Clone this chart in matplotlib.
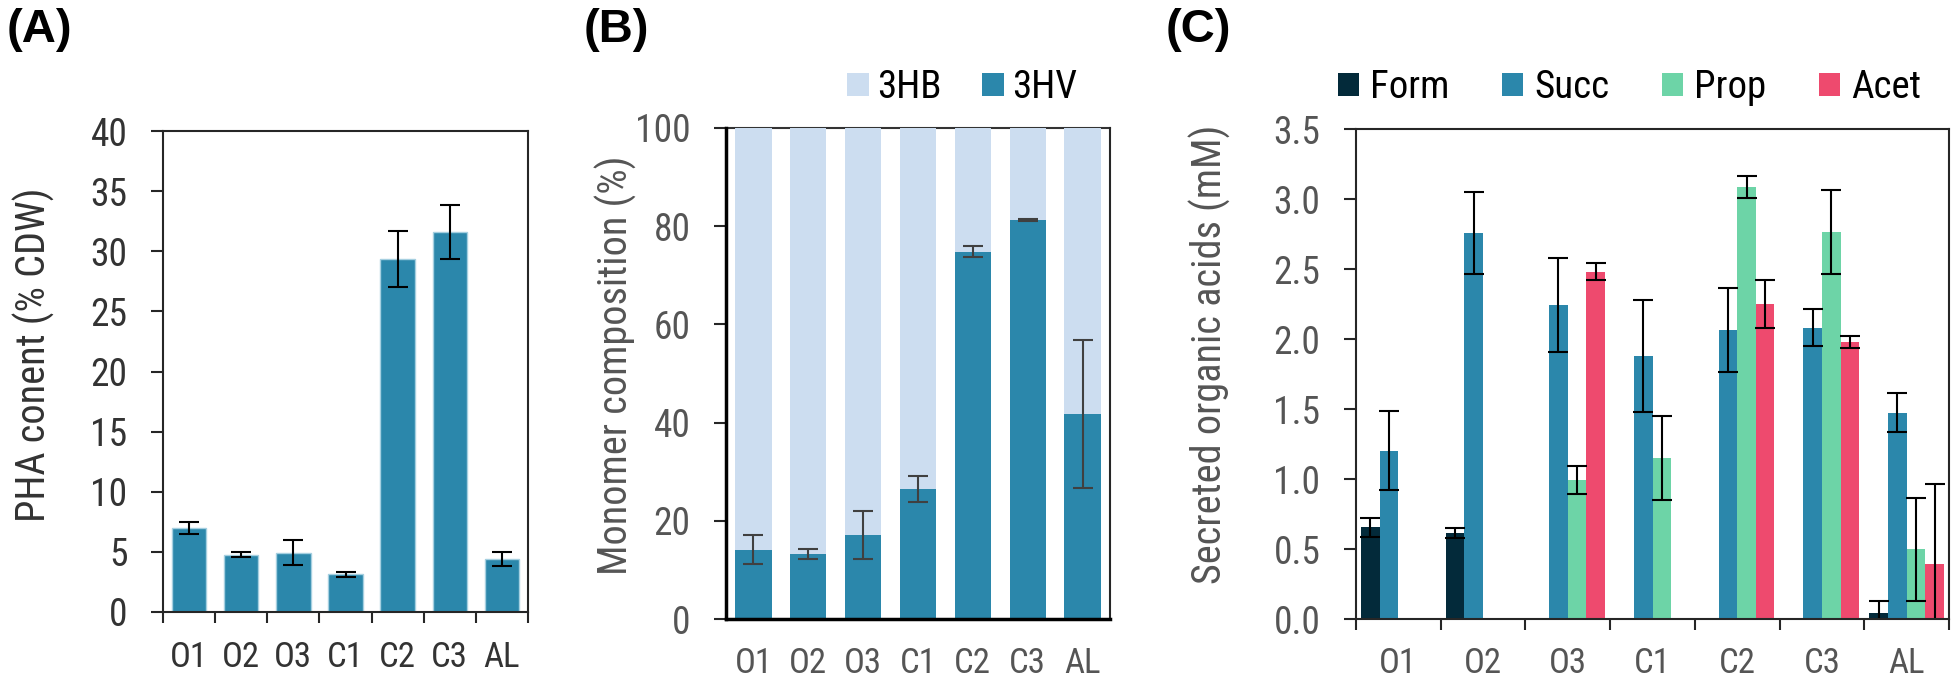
import numpy as np
import matplotlib.pyplot as plt
from matplotlib.ticker import FormatStrFormatter

plt.rcParams['font.family'] = ['Roboto Condensed', 'Liberation Sans', 'DejaVu Sans']

# data
strains = ["O1", "O2", "O3", "C1", "C2", "C3", "AL"]

pha_content = [7.0, 4.77, 4.91, 3.12, 29.35, 31.6, 4.41]
pha_err = [0.48, 0.2, 1.04, 0.2, 2.3, 2.25, 0.6]

hv_frac = [14.1, 13.2, 17.1, 26.5, 74.8, 81.3, 41.8]
hv_err = [3.0, 1.05, 4.85, 2.7, 1.15, 0.2, 15.1]
hb_frac = [100 - v for v in hv_frac]

acids = ["Form", "Succ", "Prop", "Acet"]
form = [0.654, 0.614, 0, 0, 0, 0, 0.04]
form_err = [0.07, 0.035, 0, 0, 0, 0, 0.088]
succ = [1.203, 2.757, 2.242, 1.881, 2.066, 2.081, 1.474]
succ_err = [0.285, 0.29, 0.335, 0.40, 0.30, 0.13, 0.14]
prop = [0, 0, 0.993, 1.153, 3.084, 2.763, 0.498]
prop_err = [0, 0, 0.10, 0.30, 0.08, 0.30, 0.367]
acet = [0, 0, 2.482, 0, 2.248, 1.98, 0.39]
acet_err = [0, 0, 0.06, 0, 0.17, 0.045, 0.572]

blue = "#2B87AB"
light_blue = "#CCDDF0"
acid_colors = ["#032A3A", blue, "#6DD4A7", "#EE4A6E"]

XFS = 25    # category labels
YFS = 27    # value tick labels
LFS = 29    # axis titles
x = np.arange(len(strains))

fig = plt.figure(figsize=(19.53, 6.78), dpi=100)


def style_axis(ax, label_color, xpad, boundary_ticks=True):
    ax.set_xlim(-0.5, 6.5)
    ax.set_xticks(x, strains)
    ax.tick_params(axis='x', which='major', length=0, pad=xpad,
                   labelsize=XFS, labelcolor=label_color)
    if boundary_ticks:
        ax.set_xticks(np.arange(-0.5, 7, 1), minor=True)
        ax.tick_params(axis='x', which='minor', length=8, width=1.5,
                       direction='out', color='#262626')
    ax.tick_params(axis='y', length=8.6, width=1.5, pad=17, labelsize=YFS,
                   labelcolor=label_color, color='#262626')
    for s in ax.spines.values():
        s.set_linewidth(1.5)
        s.set_color('#262626')


# (A) PHA content
axA = fig.add_axes([163 / 1953, 66 / 678, 365 / 1953, 481 / 678])
axA.bar(x, pha_content, width=0.66, color=blue, edgecolor='#a5cfe0', linewidth=1)
axA.errorbar(x, pha_content, yerr=pha_err, fmt='none', ecolor='black',
             elinewidth=1.5, capsize=7.5, capthick=1.5)
axA.set_ylim(0, 40)
axA.set_yticks(range(0, 41, 5))
style_axis(axA, '#333333', 21)
axA.set_ylabel("PHA conent (% CDW)", fontsize=LFS, color='#333333', va='center')
axA.yaxis.set_label_coords(-0.353, 0.534)

# (B) monomer composition
axB = fig.add_axes([726 / 1953, 59 / 678, 384 / 1953, 491 / 678])
axB.bar(x, hb_frac, bottom=hv_frac, width=0.66, color=light_blue, label="3HB", zorder=2.6)
axB.bar(x, hv_frac, width=0.66, color=blue, label="3HV", zorder=2.6)
axB.errorbar(x, hv_frac, yerr=hv_err, fmt='none', ecolor='#404040',
             elinewidth=1.5, capsize=7.5, capthick=1.5, zorder=3)
axB.set_ylim(0, 100)
axB.set_yticks(range(0, 101, 20))
style_axis(axB, '#555555', 20, boundary_ticks=False)
axB.spines['left'].set_linewidth(2.5)
axB.spines['bottom'].set_linewidth(2.5)
axB.spines['left'].set_color('black')
axB.spines['bottom'].set_color('black')
axB.spines['left'].set_zorder(3)
axB.spines['bottom'].set_zorder(3)
axB.spines['right'].set_zorder(3)
axB.spines['top'].set_color('#333333')
axB.set_ylabel("Monomer composition (%)", fontsize=LFS, color='#555555', va='center')
axB.yaxis.set_label_coords(-0.286, 0.517)
axB.legend(loc='center', bbox_to_anchor=(962 / 1953, 1 - 88 / 678),
           bbox_transform=fig.transFigure, ncol=2, frameon=False, fontsize=28,
           handlelength=0.57, handleheight=0.51, handletextpad=0.2,
           columnspacing=1.03, borderpad=0, borderaxespad=0)

# (C) secreted organic acids
axC = fig.add_axes([1356 / 1953, 59 / 678, 593 / 1953, 490 / 678])
width = 0.22
offsets = [-1.5, -0.5, 0.5, 1.5]
acid_vals = [form, succ, prop, acet]
acid_errs = [form_err, succ_err, prop_err, acet_err]
for name, vals, errs, off, col in zip(acids, acid_vals, acid_errs, offsets, acid_colors):
    pos = x + off * width
    axC.bar(pos, vals, width=width, color=col, label=name)
    vals = np.array(vals)
    errs = np.array(errs)
    keep = vals > 0
    axC.errorbar(pos[keep], vals[keep], yerr=errs[keep], fmt='none', ecolor='black',
                 elinewidth=1.5, capsize=7, capthick=1.5)
axC.set_ylim(0, 3.5)
axC.set_yticks(np.arange(0, 3.51, 0.5))
axC.yaxis.set_major_formatter(FormatStrFormatter('%.1f'))
style_axis(axC, '#555555', 20.5)
axC.set_ylabel("Secreted organic acids (mM)", fontsize=LFS, color='#555555', va='center')
axC.yaxis.set_label_coords(-0.246, 0.541)
axC.legend(loc='center', bbox_to_anchor=(1629.5 / 1953, 1 - 88 / 678),
           bbox_transform=fig.transFigure, ncol=4, frameon=False, fontsize=28,
           handlelength=0.54, handleheight=0.54, handletextpad=0.28,
           columnspacing=1.36, borderpad=0, borderaxespad=0)

# panel letters
for px, letter in [(7, "(A)"), (584, "(B)"), (1166, "(C)")]:
    fig.text(px / 1953, 1 - 8 / 678, letter, fontsize=34, fontweight='bold',
             family='Liberation Sans', va='top', ha='left')

fig.savefig("out.png", dpi=100)
